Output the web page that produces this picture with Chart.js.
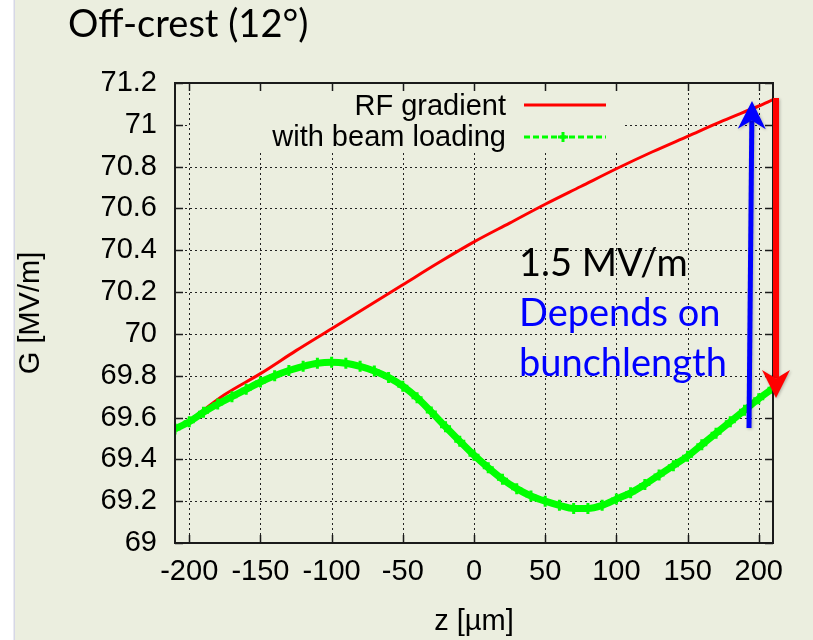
<!DOCTYPE html>
<html>
<head>
<meta charset="utf-8">
<script src="https://cdn.jsdelivr.net/npm/chart.js@4.4.0/dist/chart.umd.min.js"></script>
<style>
html, body { margin:0; padding:0; background:#fff; }
#wrap { width:813px; height:640px; position:relative; }
</style>
</head>
<body>
<div id="wrap"><canvas id="gradient-chart"></canvas></div>
<script>
// values (z in um, G in MV/m)
var zRF = [-210,-200,-175,-150,-125,-100,-75,-50,-25,0,25,50,75,100,125,150,175,200,210];
var rfGradient = [69.54,69.585,69.71,69.81,69.92,70.025,70.13,70.235,70.34,70.44,70.53,70.62,70.705,70.79,70.87,70.945,71.02,71.09,71.12];

var zBeam = [-210,-200,-190,-180,-170,-160,-150,-140,-130,-120,-110,-100,-90,-80,-70,-60,-50,-40,-30,-20,-10,
	0,10,20,30,40,50,60,70,80,90,100,110,120,130,140,150,160,170,180,190,200,210];
var withBeamLoading = [69.545,69.58,69.625,69.665,69.70,69.735,69.77,69.80,69.825,69.845,69.86,69.865,69.86,69.845,69.823,69.792,69.75,69.695,69.627,69.556,69.487,
	69.42,69.36,69.305,69.26,69.225,69.2,69.18,69.165,69.165,69.18,69.21,69.24,69.28,69.325,69.37,69.415,69.47,69.525,69.58,69.635,69.69,69.74];

var xTicks = [-200,-150,-100,-50,0,50,100,150,200];
var yTicks = [69,69.2,69.4,69.6,69.8,70,70.2,70.4,70.6,70.8,71,71.2];
var seriesLabels = ['RF gradient','with beam loading'];
var titleText = 'Off-crest (12°)';
var noteLines = ['1.5 MV/m','Depends on','bunchlength'];

var bgColor = '#ebeedf';
var plotFont = '"Liberation Sans", Arial, Helvetica, sans-serif';
var slideFont = 'Lato, "Open Sans", sans-serif';

function arrow(ctx, x0, y0, x1, y1, w, head, color){
	var dx = x1 - x0, dy = y1 - y0, len = Math.sqrt(dx*dx + dy*dy);
	var ux = dx/len, uy = dy/len, px = -uy, py = ux;
	var bx = x1 - ux*head, by = y1 - uy*head;
	var nx = x1 - ux*head*0.7, ny = y1 - uy*head*0.7;
	ctx.save();
	ctx.shadowColor = 'rgba(0,0,0,0.25)';
	ctx.shadowBlur = 3;
	ctx.shadowOffsetX = 1;
	ctx.shadowOffsetY = 1;
	ctx.strokeStyle = color;
	ctx.fillStyle = color;
	ctx.lineWidth = w;
	ctx.beginPath();
	ctx.moveTo(x0, y0);
	ctx.lineTo(nx, ny);
	ctx.stroke();
	ctx.beginPath();
	ctx.moveTo(x1, y1);
	ctx.lineTo(bx + px*head*0.5, by + py*head*0.5);
	ctx.lineTo(nx, ny);
	ctx.lineTo(bx - px*head*0.5, by - py*head*0.5);
	ctx.closePath();
	ctx.fill();
	ctx.restore();
}

var framePlugin = {
	id: 'frame',
	beforeDraw: function(chart){
		var ctx = chart.ctx;
		ctx.save();
		ctx.fillStyle = '#fff';
		ctx.fillRect(0, 0, chart.width, chart.height);
		ctx.fillStyle = bgColor;
		ctx.fillRect(15, 0, chart.width - 15, chart.height);
		ctx.fillStyle = '#d6d7e6';
		ctx.fillRect(13.5, 0, 1.5, chart.height);
		ctx.restore();
	},
	beforeDatasetsDraw: function(chart){
		var ctx = chart.ctx, a = chart.chartArea;
		var xs = chart.scales.x, ys = chart.scales.y;
		ctx.save();
		ctx.strokeStyle = '#222';
		ctx.lineWidth = 1;
		ctx.setLineDash([2,3]);
		xTicks.forEach(function(v){
			var p = Math.round(xs.getPixelForValue(v)) + 0.5;
			ctx.beginPath(); ctx.moveTo(p, a.top); ctx.lineTo(p, a.bottom); ctx.stroke();
		});
		yTicks.forEach(function(v){
			var p = Math.round(ys.getPixelForValue(v)) + 0.5;
			ctx.beginPath(); ctx.moveTo(a.left, p); ctx.lineTo(a.right, p); ctx.stroke();
		});
		ctx.setLineDash([]);
		// key box hides the grid behind it
		ctx.fillStyle = bgColor;
		ctx.fillRect(a.left + 15, a.top + 1, 434, 69);
		ctx.restore();
	},
	afterDatasetsDraw: function(chart){
		var ctx = chart.ctx, a = chart.chartArea;
		var xs = chart.scales.x, ys = chart.scales.y;
		ctx.save();
		ctx.strokeStyle = '#1a1a1a';
		ctx.lineWidth = 2;
		ctx.strokeRect(a.left, a.top, a.right - a.left, a.bottom - a.top);
		ctx.lineWidth = 1.5;
		xTicks.forEach(function(v){
			var p = Math.round(xs.getPixelForValue(v)) + 0.5;
			ctx.beginPath();
			ctx.moveTo(p, a.bottom); ctx.lineTo(p, a.bottom - 8);
			ctx.moveTo(p, a.top); ctx.lineTo(p, a.top + 8);
			ctx.stroke();
		});
		yTicks.forEach(function(v){
			var p = Math.round(ys.getPixelForValue(v)) + 0.5;
			ctx.beginPath();
			ctx.moveTo(a.left, p); ctx.lineTo(a.left + 8, p);
			ctx.moveTo(a.right, p); ctx.lineTo(a.right - 8, p);
			ctx.stroke();
		});

		// key
		ctx.font = '29px ' + plotFont;
		ctx.fillStyle = '#000';
		ctx.textAlign = 'right';
		ctx.textBaseline = 'alphabetic';
		ctx.fillText(seriesLabels[0], 506, 115);
		ctx.fillText(seriesLabels[1], 506, 146);
		ctx.strokeStyle = '#ff0000';
		ctx.lineWidth = 3;
		ctx.beginPath(); ctx.moveTo(524, 105); ctx.lineTo(606, 105); ctx.stroke();
		ctx.strokeStyle = '#00ff00';
		ctx.lineWidth = 3;
		ctx.setLineDash([6,3]);
		ctx.beginPath(); ctx.moveTo(524, 137); ctx.lineTo(606, 137); ctx.stroke();
		ctx.setLineDash([]);
		ctx.beginPath();
		ctx.moveTo(558, 137); ctx.lineTo(568, 137);
		ctx.moveTo(563, 132); ctx.lineTo(563, 142);
		ctx.stroke();
		ctx.restore();
	},
	afterDraw: function(chart){
		var ctx = chart.ctx;
		ctx.save();
		ctx.textAlign = 'left';
		ctx.textBaseline = 'alphabetic';
		ctx.fillStyle = '#000';
		ctx.font = '38px ' + slideFont;
		ctx.fillText(titleText, 68, 37);
		ctx.fillText(noteLines[0], 519, 276);
		ctx.fillStyle = '#0000ff';
		ctx.fillText(noteLines[1], 519, 326);
		ctx.fillText(noteLines[2], 519, 376);
		arrow(ctx, 749, 428, 752, 101, 5, 28, '#0000ff');
		arrow(ctx, 776, 98, 776, 398, 6, 28, '#ff0000');
		ctx.restore();
	}
};

var ctx = document.getElementById('gradient-chart');
var myChart = new Chart(ctx, {
	type: 'line',
	data: {
		datasets: [{
			label: seriesLabels[1],
			data: zBeam.map(function(z, i){ return {x: z, y: withBeamLoading[i]}; }),
			borderColor: '#00ff00',
			backgroundColor: '#00ff00',
			borderWidth: 7,
			pointStyle: 'cross',
			pointRadius: 5.5,
			pointBorderWidth: 3,
			cubicInterpolationMode: 'monotone',
			order: 1
		}, {
			label: seriesLabels[0],
			data: zRF.map(function(z, i){ return {x: z, y: rfGradient[i]}; }),
			borderColor: '#ff0000',
			borderWidth: 3,
			pointRadius: 0,
			cubicInterpolationMode: 'monotone',
			order: 2
		}]
	},
	options: {
		responsive: true,
		maintainAspectRatio: false,
		animation: false,
		layout: { padding: { top: 83, right: 40, left: 0, bottom: 0 } },
		plugins: { legend: { display: false }, tooltip: { enabled: false } },
		scales: {
			x: {
				type: 'linear',
				min: -210,
				max: 210,
				afterBuildTicks: function(scale){ scale.ticks = xTicks.map(function(v){ return {value: v}; }); },
				afterFit: function(scale){ scale.height = 97; },
				grid: { drawOnChartArea: false, drawTicks: false },
				border: { display: false },
				ticks: { color: '#000', padding: 12, maxRotation: 0, autoSkip: false, font: { family: plotFont, size: 29 } },
				title: { display: true, text: 'z [µm]', color: '#000', padding: { top: 0, bottom: 1 }, font: { family: plotFont, size: 29 } }
			},
			y: {
				type: 'linear',
				min: 69,
				max: 71.2,
				afterBuildTicks: function(scale){ scale.ticks = yTicks.map(function(v){ return {value: v}; }); },
				afterFit: function(scale){ scale.width = 175; },
				grid: { drawOnChartArea: false, drawTicks: false },
				border: { display: false },
				ticks: { color: '#000', padding: 18, autoSkip: false, font: { family: plotFont, size: 29 },
					callback: function(v){ return String(v); } },
				title: { display: true, text: 'G [MV/m]', color: '#000', padding: { top: 14, bottom: 0 }, font: { family: plotFont, size: 29 } }
			}
		}
	},
	plugins: [framePlugin]
});
</script>
</body>
</html>
